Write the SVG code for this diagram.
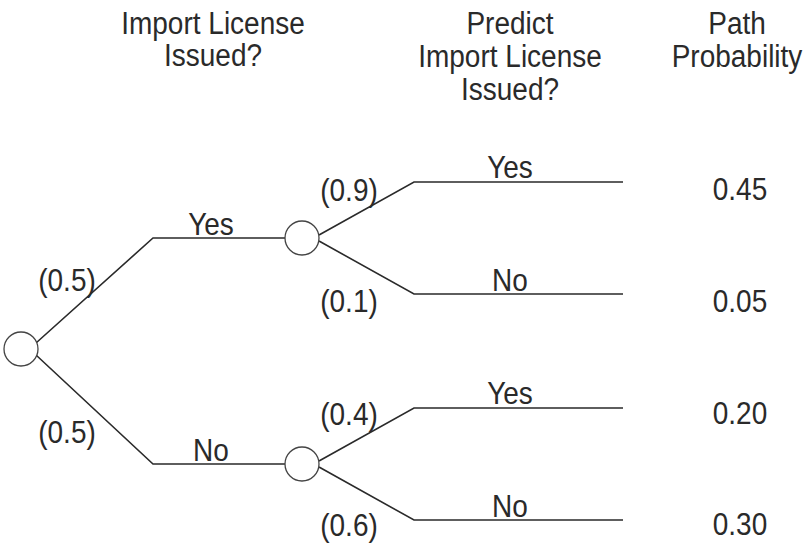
<svg xmlns="http://www.w3.org/2000/svg" width="808" height="545" viewBox="0 0 808 545">
<style>
text{font-family:"Liberation Sans",Arial,sans-serif;font-size:28px;fill:#2a2a2a;text-anchor:middle}
.l{stroke:#2a2a2a;stroke-width:1.6;fill:none}
.n{stroke:#444;stroke-width:1.3;fill:#fff}
</style>
<rect width="808" height="545" fill="#fff"/>
<g id="headers">
<text transform="translate(213 34) scale(1 1.1)">Import License</text>
<text transform="translate(213 66) scale(1 1.1)">Issued?</text>
<text transform="translate(510 34) scale(1 1.1)">Predict</text>
<text transform="translate(510 67) scale(1 1.1)">Import License</text>
<text transform="translate(510 100) scale(1 1.1)">Issued?</text>
<text transform="translate(737 34) scale(1 1.1)">Path</text>
<text transform="translate(737 67) scale(1 1.1)">Probability</text>
</g>
<g id="connectors">
<polyline class="l" points="36,343 153,238 285,238"/>
<polyline class="l" points="36,355 153,464 285,464"/>
<polyline class="l" points="319,235 414,182 623,182"/>
<polyline class="l" points="319,241 414,294 623,294"/>
<polyline class="l" points="319,461 414,408 623,408"/>
<polyline class="l" points="319,467 414,520 623,520"/>
</g>
<g id="root"><circle class="n" cx="21" cy="349" r="17"/></g>
<g id="chance1"><circle class="n" cx="302" cy="238" r="17"/></g>
<g id="chance2"><circle class="n" cx="302" cy="464" r="17"/></g>
<g id="labels">
<text transform="translate(211 235) scale(1 1.15)">Yes</text>
<text transform="translate(67 291) scale(1 1.15)">(0.5)</text>
<text transform="translate(67 443) scale(1 1.15)">(0.5)</text>
<text transform="translate(211 461) scale(1 1.15)">No</text>
<text transform="translate(349 201) scale(1 1.15)">(0.9)</text>
<text transform="translate(349 312) scale(1 1.15)">(0.1)</text>
<text transform="translate(349 425) scale(1 1.15)">(0.4)</text>
<text transform="translate(349 536) scale(1 1.15)">(0.6)</text>
<text transform="translate(510 178) scale(1 1.15)">Yes</text>
<text transform="translate(510 291) scale(1 1.15)">No</text>
<text transform="translate(510 404) scale(1 1.15)">Yes</text>
<text transform="translate(510 517) scale(1 1.15)">No</text>
</g>
<g id="probabilities">
<text transform="translate(740 200) scale(1 1.15)">0.45</text>
<text transform="translate(740 312) scale(1 1.15)">0.05</text>
<text transform="translate(740 424) scale(1 1.15)">0.20</text>
<text transform="translate(740 535) scale(1 1.15)">0.30</text>
</g>
</svg>
